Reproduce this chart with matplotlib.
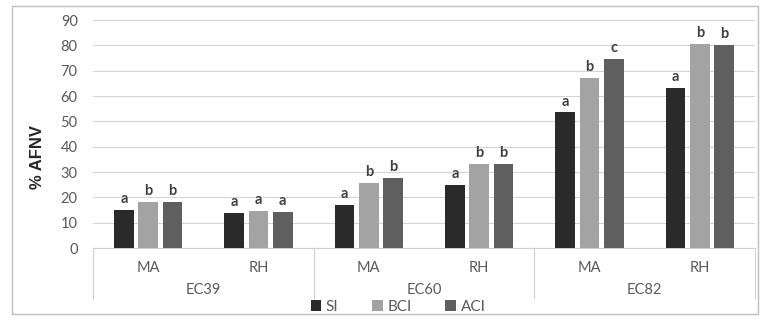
import matplotlib
matplotlib.use("Agg")
import matplotlib.pyplot as plt
from matplotlib.patches import Rectangle
import numpy as np

# data
groups = ["EC39", "EC60", "EC82"]
sites = ["MA", "RH", "MA", "RH", "MA", "RH"]
series = ["SI", "BCI", "ACI"]
si = [15, 14, 17, 25, 53.5, 63]
bci = [18, 14.5, 25.5, 33, 67, 80.5]
aci = [18, 14.3, 27.5, 33, 74.5, 80]
letters_si = ["a", "a", "a", "a", "a", "a"]
letters_bci = ["b", "a", "b", "b", "b", "b"]
letters_aci = ["b", "a", "b", "b", "c", "b"]

colors = ["#2a2a2a", "#a3a3a3", "#5f5f5f"]
text_grey = "#595959"

plt.rcParams["font.family"] = ["Lato", "DejaVu Sans"]

W, H = 763, 320
fig = plt.figure(figsize=(W / 100, H / 100), dpi=100)

# outer chart border
fig.patches.append(Rectangle((12 / W, 6 / H), 746 / W, 308 / H, transform=fig.transFigure,
                             fill=False, edgecolor="#bdbdbd", linewidth=1.0))

# plot area in pixels: left 93, right 755, top 20 (90), bottom 248 (0)
ax = fig.add_axes([93 / W, 1 - 248 / H, 662 / W, 228 / H])

x = np.arange(len(sites))
width = 0.18
step = 0.22
values = [si, bci, aci]
letters = [letters_si, letters_bci, letters_aci]
for i, (vals, lab, col) in enumerate(zip(values, letters, colors)):
    pos = x + (i - 1) * step
    ax.bar(pos, vals, width=width, color=col, label=series[i], zorder=3)
    for p, v, t in zip(pos, vals, lab):
        ax.annotate(t, (p, v), xytext=(0, 5), textcoords="offset points",
                    ha="center", va="baseline", fontsize=10.5, fontweight="bold",
                    color="#404040")

ax.set_xlim(-0.5, len(sites) - 0.5)
ax.set_ylim(0, 90)
ax.set_yticks(range(0, 91, 10))
ax.yaxis.grid(True, color="#d4d4d4", linewidth=0.8, zorder=0)
ax.set_axisbelow(True)
ax.tick_params(axis="y", length=0, pad=11, labelsize=10.5, labelcolor=text_grey)
for s in ["top", "right", "left"]:
    ax.spines[s].set_visible(False)
ax.spines["bottom"].set_color("#d0d0d0")

ax.set_xticks(x)
ax.set_xticklabels(sites, fontsize=10.5, color=text_grey)
ax.tick_params(axis="x", length=0, pad=9)

# group labels and separators below the axis
trans = ax.get_xaxis_transform()
sep_bottom = -50 / 228
for g, name in enumerate(groups):
    ax.text(2 * g + 0.5, -42 / 228, name, transform=trans, ha="center", va="center",
            fontsize=10.5, color=text_grey)
for b in [-0.5, 1.5, 3.5, 5.5]:
    ax.plot([b, b], [0, sep_bottom], transform=trans, color="#d0d0d0",
            linewidth=0.8, clip_on=False)

fig.text(37 / W, 1 - 157 / H, "% AFNV", rotation=90, ha="center", va="center",
         fontsize=12, fontweight="bold", color="#262626",
         family=["Liberation Sans Narrow", "Liberation Sans", "DejaVu Sans"])

fig.legend(loc="center", bbox_to_anchor=(398 / W, 1 - 307 / H), ncol=3, frameon=False,
           fontsize=11, handlelength=0.7, handleheight=0.7, handletextpad=0.3,
           columnspacing=2.2, labelcolor=text_grey)

fig.savefig("out.png", dpi=100)
